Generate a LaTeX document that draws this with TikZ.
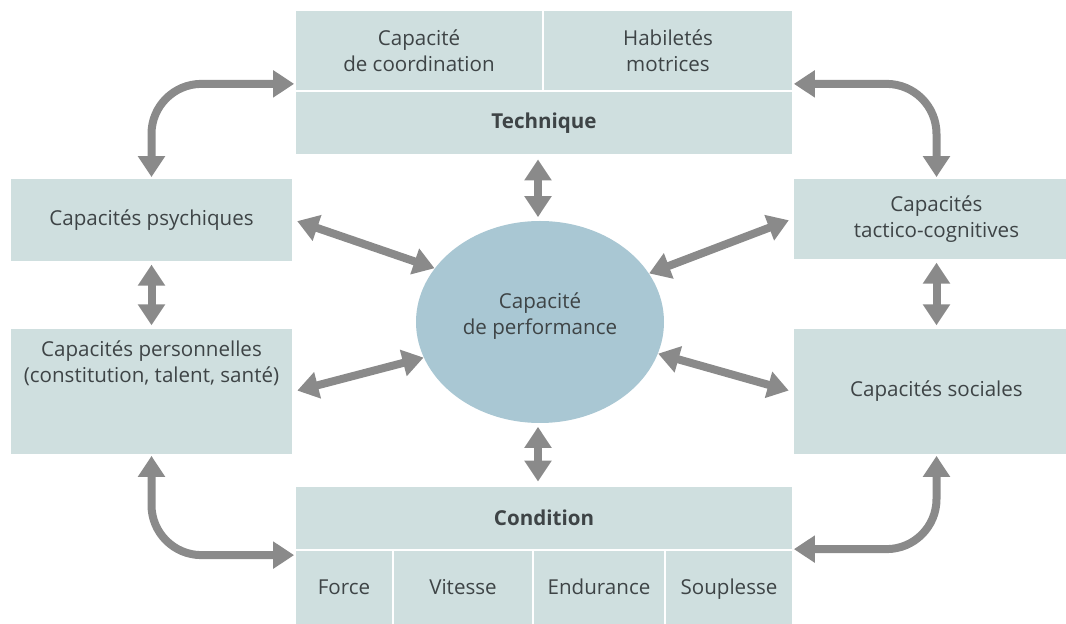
\documentclass[tikz,border=0pt]{standalone}
\usepackage{fontspec}
\setmainfont{Open Sans}
\usepackage{tikz}
\usetikzlibrary{shapes.geometric, arrows.meta, positioning, calc}
\definecolor{boxfill}{HTML}{CFDFDF}
\definecolor{ellfill}{HTML}{A9C7D3}
\definecolor{linkgray}{HTML}{8A8A8A}
\definecolor{txtgray}{HTML}{3E4446}

\begin{document}
\begin{tikzpicture}[
    font=\fontsize{11.7}{14.8}\selectfont,
    cell/.style={rectangle, fill=boxfill, draw=white, line width=1pt, align=center, text=txtgray, inner sep=2pt},
    head/.style={cell, font=\fontsize{11.7}{14.8}\selectfont\bfseries},
    sub/.style={cell, minimum height=1.50cm, text height=2.1ex, text depth=0.6ex},
    ellbox/.style={ellipse, fill=ellfill, inner sep=0pt, minimum width=4.96cm, minimum height=4.04cm},
    lbl/.style={align=center, text=txtgray, inner sep=1pt},
    link/.style={{Triangle[length=0.42cm, width=0.52cm]}-{Triangle[length=0.42cm, width=0.52cm]}, line width=0.16cm, linkgray}
  ]
    \clip (0,0) rectangle (21.32,-12.48);
    % Technique
    \node[cell, minimum width=4.96cm, minimum height=1.62cm] (coord) at (8.38,-1.01) {Capacité\\de coordination};
    \node[cell, minimum width=5.00cm, minimum height=1.62cm] (habil) at (13.36,-1.01) {Habiletés\\motrices};
    \node[head, minimum width=9.96cm, minimum height=1.28cm] (tech) at (10.88,-2.46) {Technique};
    % Condition
    \node[head, minimum width=9.96cm, minimum height=1.28cm] (cond) at (10.88,-10.36) {Condition};
    \node[sub, minimum width=1.96cm] (force) at (6.88,-11.75) {Force};
    \node[sub, minimum width=2.80cm] (vit) at (9.26,-11.75) {Vitesse};
    \node[sub, minimum width=2.64cm] (endu) at (11.98,-11.75) {Endurance};
    \node[sub, minimum width=2.56cm] (souple) at (14.58,-11.75) {Souplesse};
    % cotes
    \node[cell, minimum width=5.66cm, minimum height=1.68cm] (psych) at (3.03,-4.40) {Capacités psychiques};
    \node[cell, minimum width=5.66cm, minimum height=2.54cm] (perso) at (3.03,-7.83) {};
    \node[lbl, below=0.24cm of perso.north] (persotext) {Capacités personnelles\\(constitution, talent, santé)};
    \node[cell, minimum width=5.74cm, minimum height=1.64cm] (tactic) at (18.73,-4.38) {Capacités\\tactico-cognitives};
    \node[cell, minimum width=5.74cm, minimum height=2.54cm] (social) at (18.73,-7.83) {Capacités sociales};
    % centre
    \node[ellbox] (ell) at (10.80,-6.44) {};
    \node[lbl] (elltext) at ([yshift=0.12cm]ell.center) {Capacité\\de performance};
    \coordinate (techL) at ([yshift=0.16cm]coord.south west);
    \coordinate (techR) at ([yshift=0.16cm]habil.south east);
    \coordinate (condL) at ([yshift=-0.12cm]force.north west);
    \coordinate (condR) at (souple.north east);
    \draw[link, shorten <=2pt, shorten >=2pt] ([xshift=-0.04cm]ell.north) -- ([xshift=-0.04cm]ell.north |- tech.south);
    \draw[link, shorten <=2pt, shorten >=2pt] ([xshift=-0.04cm]ell.south) -- ([xshift=-0.04cm]ell.south |- cond.north);
    \draw[link, shorten <=2pt] (psych.east) -- (ell.153);
    \draw[link, shorten <=2pt] (perso.east) -- (ell.197);
    \draw[link, shorten <=2pt] (tactic.west) -- (ell.24);
    \draw[link, shorten <=2pt] (social.west) -- (ell.345);
    \draw[link, shorten <=1pt, shorten >=1pt] (psych.south) -- (perso.north);
    \draw[link, shorten <=1pt, shorten >=1pt] (tactic.south) -- (social.north);
    \draw[link, rounded corners=1cm] (psych.north) |- (techL);
    \draw[link, rounded corners=1cm] (tactic.north) |- (techR);
    \draw[link, rounded corners=1cm] (perso.south) |- (condL);
    \draw[link, rounded corners=1cm] (social.south) |- (condR);
  \end{tikzpicture}
\end{document}
